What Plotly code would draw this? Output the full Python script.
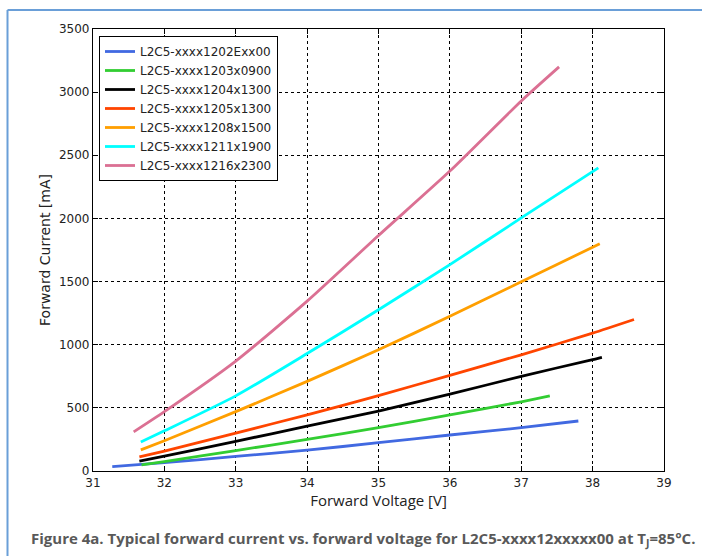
import plotly.graph_objects as go

names = ["L2C5-xxxx1202Exx00", "L2C5-xxxx1203x0900", "L2C5-xxxx1204x1300",
         "L2C5-xxxx1205x1300", "L2C5-xxxx1208x1500", "L2C5-xxxx1211x1900",
         "L2C5-xxxx1216x2300"]
colors = ["#4169E1", "#32CD32", "#000000", "#FF4500", "#FF9F00", "#00FFFF", "#DB7093"]

v_blue = [31.27, 32, 33, 34, 35, 36, 37, 37.8]
i_blue = [35, 66, 115, 165, 224, 285, 343, 396]
v_green = [31.68, 32, 33, 34, 35, 36, 37, 37.4]
i_green = [48, 75, 162, 250, 343, 444, 548, 594]
v_black = [31.65, 32, 33, 34, 35, 36, 37, 38, 38.13]
i_black = [79, 118, 235, 355, 475, 608, 750, 882, 900]
v_red = [31.65, 32, 33, 34, 35, 36, 37, 38, 38.58]
i_red = [111, 158, 300, 445, 597, 758, 920, 1092, 1200]
v_orange = [31.67, 32, 33, 34, 35, 36, 37, 38, 38.1]
i_orange = [167, 240, 470, 710, 960, 1225, 1498, 1772, 1800]
v_cyan = [31.67, 32, 33, 34, 35, 36, 37, 38.08]
i_cyan = [230, 318, 595, 930, 1277, 1634, 2004, 2400]
v_pink = [31.57, 32, 33, 34, 35, 36, 37, 37.53]
i_pink = [310, 470, 870, 1345, 1865, 2375, 2930, 3200]

series_v = [v_blue, v_green, v_black, v_red, v_orange, v_cyan, v_pink]
series_i = [i_blue, i_green, i_black, i_red, i_orange, i_cyan, i_pink]

x_ticks = [31, 32, 33, 34, 35, 36, 37, 38, 39]
y_ticks = [0, 500, 1000, 1500, 2000, 2500, 3000, 3500]

caption = "Figure 4a. Typical forward current vs. forward voltage for L2C5-xxxx12xxxxx00 at T<sub>J</sub>=85°C."

W, H = 702, 556
L, R, T, B = 93, 664, 29, 471

fig = go.Figure()
for n, c, vx, iy in zip(names, colors, series_v, series_i):
    fig.add_trace(go.Scatter(x=vx, y=iy, mode="lines", name=n,
                             line=dict(color=c, width=2.8, shape="spline", smoothing=0.6)))

def px_x(p):
    return (p - L) / (R - L)

def px_y(p):
    return (B - p) / (B - T)

axis_common = dict(showline=True, linecolor="black", linewidth=1.2, mirror="ticks",
                   ticks="inside", ticklen=5, tickcolor="black",
                   showgrid=True, gridcolor="black", griddash="dot", gridwidth=1,
                   zeroline=False, tickfont=dict(family="DejaVu Sans", size=12, color="#222"))

fig.update_xaxes(range=[31, 39], tickvals=x_ticks, ticktext=[str(t) for t in x_ticks],
                 title=dict(text="Forward Voltage [V]", font=dict(family="Open Sans", size=15, color="#222"),
                            standoff=4), **axis_common)
fig.update_yaxes(range=[0, 3500], tickvals=y_ticks, ticktext=[str(t) for t in y_ticks],
                 title=dict(text="Forward Current [mA]", font=dict(family="DejaVu Sans", size=14, color="#222"),
                            standoff=5), **axis_common)

fig.update_layout(
    width=W, height=H,
    margin=dict(l=L, r=W - R, t=T, b=H - B),
    paper_bgcolor="white", plot_bgcolor="white",
    showlegend=True,
    legend=dict(x=px_x(99), y=px_y(36), xanchor="left", yanchor="top",
                bgcolor="white", bordercolor="black", borderwidth=1,
                font=dict(family="DejaVu Sans", size=12, color="#222"),
                tracegroupgap=0, itemwidth=30),
    shapes=[
        dict(type="line", xref="paper", yref="paper", x0=px_x(7.5), x1=px_x(720),
             y0=px_y(10), y1=px_y(10), line=dict(color="#6A9FD8", width=2)),
        dict(type="line", xref="paper", yref="paper", x0=px_x(7.5), x1=px_x(7.5),
             y0=px_y(10), y1=px_y(570), line=dict(color="#6A9FD8", width=2)),
    ],
    annotations=[
        dict(text="<b>" + caption + "</b>", xref="paper", yref="paper",
             x=px_x(29), y=px_y(539), xanchor="left", yanchor="middle", showarrow=False,
             font=dict(family="Open Sans", size=15, color="#595959")),
    ],
)

fig.write_html("out.html")
